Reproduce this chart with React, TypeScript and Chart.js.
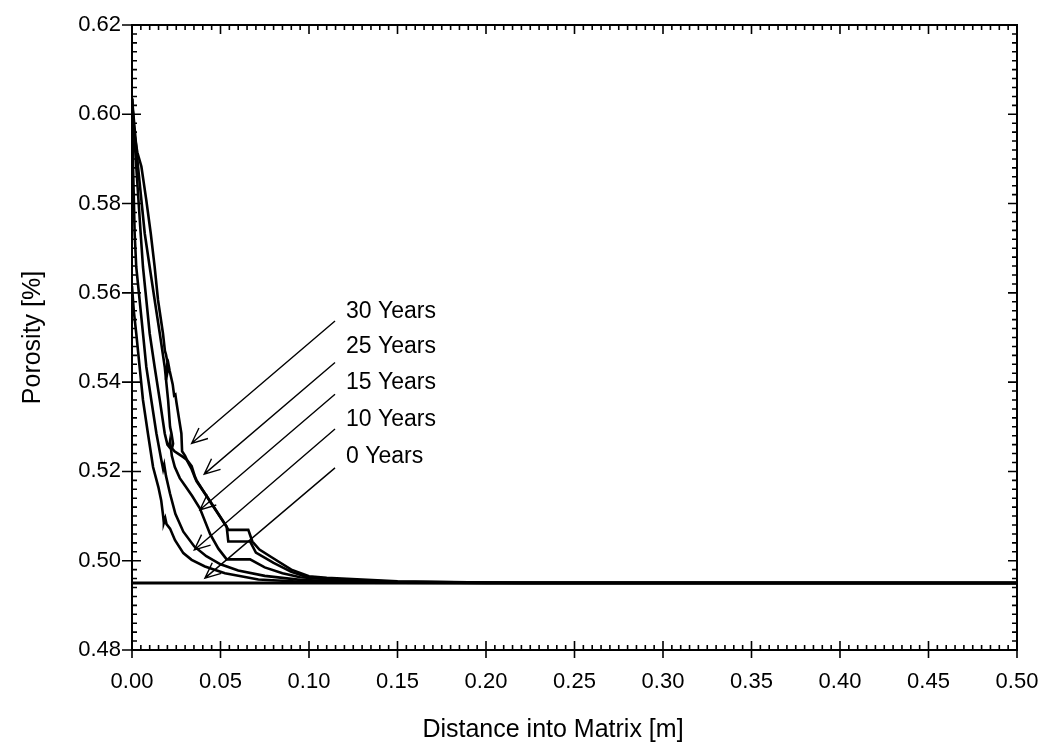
import React, { useEffect, useRef } from "react";
import { Chart, registerables } from "chart.js";

Chart.register(...registerables);

// Axis ticks
const xTickValues = [0, 0.05, 0.1, 0.15, 0.2, 0.25, 0.3, 0.35, 0.4, 0.45, 0.5];
const yTickValues = [0.48, 0.5, 0.52, 0.54, 0.56, 0.58, 0.6, 0.62];

// Porosity profiles: [distance (m), porosity]
const baseline: number[][] = [
  [0, 0.495],
  [0.5, 0.495],
];

const profile0: number[][] = [
  [0, 0.5615], [0.001, 0.556], [0.0024, 0.5509], [0.0043, 0.5434], [0.0062, 0.536],
  [0.009, 0.5285], [0.0119, 0.521], [0.0149, 0.5165], [0.0165, 0.5135], [0.0176, 0.51],
  [0.018, 0.5085], [0.0188, 0.5095], [0.0195, 0.5082], [0.0215, 0.5072], [0.0243, 0.5046],
  [0.029, 0.5017], [0.0337, 0.5002], [0.0412, 0.4987], [0.0525, 0.4972], [0.0714, 0.4958],
  [0.096, 0.4953], [0.13, 0.4951], [0.2, 0.495], [0.5, 0.495],
];

const profile10: number[][] = [
  [0, 0.6035], [0.0006, 0.5883], [0.0015, 0.5733], [0.0024, 0.5658], [0.0043, 0.5584],
  [0.0062, 0.5509], [0.0081, 0.5434], [0.0109, 0.536], [0.0138, 0.5285], [0.0166, 0.5225],
  [0.0176, 0.5205], [0.0182, 0.5215], [0.0192, 0.519], [0.0215, 0.515], [0.0245, 0.5105],
  [0.029, 0.5065], [0.0352, 0.5032], [0.042, 0.501], [0.05, 0.4992], [0.06, 0.4978],
  [0.075, 0.4966], [0.095, 0.4957], [0.12, 0.4953], [0.15, 0.4951], [0.2, 0.495], [0.5, 0.495],
];

const profile15: number[][] = [
  [0, 0.6035], [0.0024, 0.5883], [0.0049, 0.5733], [0.0062, 0.5658], [0.0081, 0.5584],
  [0.01, 0.5509], [0.0128, 0.5434], [0.0157, 0.536], [0.0185, 0.5285], [0.02, 0.526],
  [0.021, 0.5255], [0.0215, 0.5268], [0.0225, 0.5235], [0.0242, 0.521], [0.027, 0.5185],
  [0.03, 0.5168], [0.034, 0.5145], [0.0384, 0.5117], [0.0441, 0.506], [0.0488, 0.5027],
  [0.0535, 0.5003], [0.0667, 0.5003], [0.075, 0.4985], [0.085, 0.4972], [0.095, 0.4963],
  [0.12, 0.4956], [0.15, 0.4952], [0.2, 0.495], [0.5, 0.495],
];

const profile25: number[][] = [
  [0, 0.6035], [0.0034, 0.5883], [0.0072, 0.5733], [0.01, 0.5658], [0.0128, 0.5584],
  [0.0157, 0.5509], [0.0185, 0.5434], [0.0204, 0.536], [0.0215, 0.53], [0.0223, 0.5285],
  [0.0232, 0.5262], [0.0226, 0.5252], [0.024, 0.5245], [0.026, 0.524], [0.029, 0.5232],
  [0.0309, 0.5226], [0.0337, 0.5205], [0.0356, 0.5186], [0.0365, 0.5178], [0.045, 0.5128],
  [0.0535, 0.5076], [0.0544, 0.5043], [0.0667, 0.5043], [0.07, 0.5018], [0.08, 0.4995],
  [0.09, 0.4975], [0.1, 0.4962], [0.12, 0.4957], [0.15, 0.4953], [0.2, 0.4951], [0.5, 0.495],
];

const profile30: number[][] = [
  [0, 0.6035], [0.0012, 0.596], [0.003, 0.5915], [0.0053, 0.5883], [0.008, 0.581],
  [0.0106, 0.5733], [0.0128, 0.5658], [0.0147, 0.5584], [0.0175, 0.5509], [0.0186, 0.547],
  [0.0192, 0.5462], [0.02, 0.5445], [0.0192, 0.5405], [0.0207, 0.5438], [0.0213, 0.5425],
  [0.023, 0.5395], [0.0238, 0.537], [0.0245, 0.5372], [0.0251, 0.5355], [0.0265, 0.532],
  [0.0279, 0.5285], [0.0283, 0.5245], [0.03, 0.5235], [0.031, 0.5226], [0.0337, 0.5212],
  [0.0356, 0.5188], [0.0365, 0.518], [0.045, 0.5127], [0.0535, 0.5076], [0.0544, 0.5069],
  [0.0657, 0.5069], [0.068, 0.5043], [0.072, 0.5025], [0.08, 0.5005], [0.09, 0.498],
  [0.1, 0.4965], [0.11, 0.4962], [0.13, 0.4958], [0.15, 0.4954], [0.18, 0.4952],
  [0.22, 0.495], [0.5, 0.495],
];

// Callout labels and their arrows (data coordinates)
const calloutLabels = ["30 Years", "25 Years", "15 Years", "10 Years", "0 Years"];
const calloutLabelX = 0.1209;
const calloutLabelY = [0.5558, 0.5479, 0.5398, 0.5315, 0.5232];
const arrowStartX = 0.1147;
const arrowStartY = [0.5537, 0.5444, 0.5373, 0.5295, 0.5208];
const arrowTipX = [0.0337, 0.0408, 0.0384, 0.0352, 0.0412];
const arrowTipY = [0.5263, 0.5194, 0.5114, 0.5024, 0.4961];

const xTitle = "Distance into Matrix [m]";
const yTitle = "Porosity [%]";

const FONT = "'Liberation Sans', Arial, Helvetica, sans-serif";

const toPoints = (rows: number[][]) => rows.map(([x, y]) => ({ x, y }));

const framePlugin = {
  id: "frameAndCallouts",
  afterDatasetsDraw(chart: any) {
    const { ctx, chartArea, scales } = chart;
    const xs = scales.x;
    const ys = scales.y;
    const { left, right, top, bottom } = chartArea;
    ctx.save();
    ctx.strokeStyle = "#000";
    ctx.fillStyle = "#000";

    // Callout arrows
    ctx.lineWidth = 1.4;
    for (let i = 0; i < calloutLabels.length; i++) {
      const sx = xs.getPixelForValue(arrowStartX);
      const sy = ys.getPixelForValue(arrowStartY[i]);
      const tx = xs.getPixelForValue(arrowTipX[i]);
      const ty = ys.getPixelForValue(arrowTipY[i]);
      ctx.beginPath();
      ctx.moveTo(sx, sy);
      ctx.lineTo(tx, ty);
      const ang = Math.atan2(sy - ty, sx - tx);
      const wing = 17;
      const spread = 0.42;
      ctx.moveTo(tx + wing * Math.cos(ang - spread), ty + wing * Math.sin(ang - spread));
      ctx.lineTo(tx, ty);
      ctx.lineTo(tx + wing * Math.cos(ang + spread), ty + wing * Math.sin(ang + spread));
      ctx.stroke();
    }

    // Callout text
    ctx.font = `23px ${FONT}`;
    ctx.textAlign = "left";
    ctx.textBaseline = "middle";
    for (let i = 0; i < calloutLabels.length; i++) {
      ctx.fillText(
        calloutLabels[i],
        xs.getPixelForValue(calloutLabelX),
        ys.getPixelForValue(calloutLabelY[i])
      );
    }

    // Frame
    ctx.lineWidth = 2;
    ctx.strokeRect(left, top, right - left, bottom - top);

    // Tick marks pointing into the plot
    ctx.lineWidth = 1.6;
    ctx.beginPath();
    for (let k = 0; k <= 100; k++) {
      const v = k * 0.005;
      const px = xs.getPixelForValue(v);
      const major = k % 10 === 0;
      const inLen = major ? 9 : 5;
      ctx.moveTo(px, bottom + (major ? 8 : 0));
      ctx.lineTo(px, bottom - inLen);
      ctx.moveTo(px, top);
      ctx.lineTo(px, top + inLen);
    }
    for (let k = 0; k <= 70; k++) {
      const v = 0.48 + k * 0.002;
      const py = ys.getPixelForValue(v);
      const major = k % 10 === 0;
      const inLen = major ? 9 : 5;
      ctx.moveTo(left - (major ? 10 : 0), py);
      ctx.lineTo(left + inLen, py);
      ctx.moveTo(right, py);
      ctx.lineTo(right - inLen, py);
    }
    ctx.stroke();

    // Axis titles
    ctx.font = `25px ${FONT}`;
    ctx.textAlign = "center";
    ctx.textBaseline = "alphabetic";
    ctx.fillText(xTitle, 553, 737);
    ctx.save();
    ctx.translate(40, (top + bottom) / 2);
    ctx.rotate(-Math.PI / 2);
    ctx.fillText(yTitle, 0, 0);
    ctx.restore();

    ctx.restore();
  },
};

export default function App() {
  const canvasRef = useRef<HTMLCanvasElement | null>(null);

  useEffect(() => {
    const canvas = canvasRef.current;
    if (!canvas) return;
    const series = [baseline, profile0, profile10, profile15, profile25, profile30];
    const chart = new Chart(canvas, {
      type: "line",
      data: {
        datasets: series.map((rows, i) => ({
          label: `profile-${i}`,
          data: toPoints(rows),
          borderColor: "#000",
          borderWidth: i === 0 ? 3 : 2.6,
          pointRadius: 0,
          tension: 0,
          fill: false,
        })),
      },
      options: {
        responsive: false,
        animation: false,
        devicePixelRatio: 1,
        layout: { padding: { left: 0, top: 25, right: 28, bottom: 0 } },
        plugins: {
          legend: { display: false },
          tooltip: { enabled: false },
          title: { display: false },
        },
        scales: {
          x: {
            type: "linear",
            min: 0,
            max: 0.5,
            afterBuildTicks: (scale: any) => {
              scale.ticks = xTickValues.map((value) => ({ value }));
            },
            afterFit: (scale: any) => {
              scale.height = 94;
              scale.paddingLeft = 0;
              scale.paddingRight = 0;
            },
            grid: { display: false, drawTicks: false },
            border: { display: false },
            ticks: {
              padding: 19,
              color: "#000",
              maxRotation: 0,
              autoSkip: false,
              font: { family: FONT, size: 22 },
              callback: (v: any) => Number(v).toFixed(2),
            },
          },
          y: {
            type: "linear",
            min: 0.48,
            max: 0.62,
            afterBuildTicks: (scale: any) => {
              scale.ticks = yTickValues.map((value) => ({ value }));
            },
            afterFit: (scale: any) => {
              scale.width = 132;
              scale.paddingTop = 0;
              scale.paddingBottom = 0;
            },
            grid: { display: false, drawTicks: false },
            border: { display: false },
            ticks: {
              padding: 11,
              color: "#000",
              autoSkip: false,
              font: { family: FONT, size: 22 },
              callback: (v: any) => Number(v).toFixed(2),
            },
          },
        },
      },
      plugins: [framePlugin],
    });
    return () => chart.destroy();
  }, []);

  return (
    <div style={{ position: "fixed", left: 0, top: 0, width: 1045, height: 744, background: "#fff" }}>
      <canvas ref={canvasRef} width={1045} height={744} style={{ display: "block" }} />
    </div>
  );
}
